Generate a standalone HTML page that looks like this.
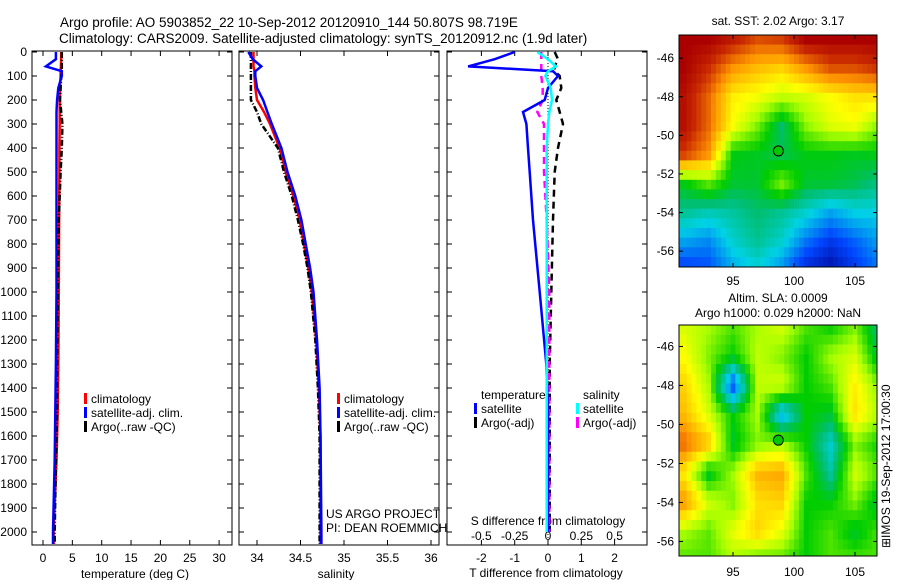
<!DOCTYPE html>
<html><head><meta charset="utf-8"><style>
body{margin:0;background:#fff;width:900px;height:580px;overflow:hidden;font-family:"Liberation Sans",sans-serif}
svg text{font-family:"Liberation Sans",sans-serif;fill:#000}
</style></head><body>
<svg id="fig" width="900" height="580" xmlns="http://www.w3.org/2000/svg">
<text x="60" y="27" font-size="13.5">Argo profile: AO 5903852_22 10-Sep-2012 20120910_144 50.807S 98.719E</text>
<text x="59" y="43" font-size="13.5">Climatology: CARS2009. Satellite-adjusted climatology: synTS_20120912.nc (1.9d later)</text>
<g id="g1"></g><g id="g2"></g><g id="g3"></g><g id="g4"></g><g id="g5"></g>
<text transform="translate(890,548) rotate(-90)" font-size="12">⊞IMOS 19-Sep-2012 17:00:30</text>
</svg>
<script>
// ---- profile data ----
const depthT=[0,30,60,80,100,150,200,250,300,400,500,700,1000,1300,1500,1700,2000,2050];
const climT=[3.1,3.1,3.05,3.0,3.0,2.9,2.85,2.85,2.85,2.8,2.8,2.75,2.7,2.6,2.5,2.3,1.8,1.8];
const satT=[2.2,2.2,0.5,3.2,3.2,2.6,2.4,2.3,2.3,2.3,2.3,2.3,2.3,2.2,2.1,2.0,1.7,1.7];
const argoT=[3.2,3.2,3.2,3.2,3.1,3.0,2.9,3.1,3.3,3.2,3.0,2.7,2.5,2.4,2.4,2.2,2.0,2.0];
const depthS=[0,30,60,80,100,150,200,250,300,400,500,600,700,800,900,1000,1200,1400,1600,2000,2050];
const climS=[33.96,33.96,33.96,33.97,33.97,33.98,34.0,34.08,34.15,34.26,34.33,34.42,34.49,34.54,34.59,34.63,34.68,34.71,34.73,34.73,34.73];
const satS=[33.9,33.95,34.05,33.98,33.98,34.0,34.07,34.12,34.17,34.28,34.35,34.44,34.51,34.56,34.61,34.65,34.69,34.72,34.73,34.74,34.74];
const argoS=[33.93,33.93,33.93,33.93,33.93,33.93,33.93,34.0,34.05,34.24,34.31,34.4,34.47,34.53,34.58,34.62,34.67,34.7,34.72,34.72,34.72];
const depthD=[0,30,60,80,100,150,200,250,300,400,500,700,1000,1300,1500,2000];
const satTd=[-1.0,-1.6,-2.4,0.15,0.3,0.0,-0.1,-0.75,-0.65,-0.6,-0.55,-0.45,-0.25,-0.05,0,0];
const argoTd=[0.2,0.3,0.2,0.2,0.35,0.4,0.25,0.35,0.45,0.3,0.2,0.15,0.1,0.05,0.05,0.05];
const satSd=[-0.08,0.0,0.06,0.0,-0.02,0.02,0.03,0.01,0.0,-0.01,-0.01,-0.01,-0.01,-0.01,-0.01,-0.01];
const argoSd=[-0.05,-0.05,-0.05,-0.05,-0.05,-0.04,-0.04,-0.08,-0.03,-0.03,-0.03,-0.01,0.01,0.01,0.01,0.01];
const tempTicks=[0,5,10,15,20,25,30];
const salTicks=[34,34.5,35,35.5,36];
const depthTicks=[0,100,200,300,400,500,600,700,800,900,1000,1100,1200,1300,1400,1500,1600,1700,1800,1900,2000];
const tdTicks=[-2,-1,0,1,2];
const sdTicks=[-0.5,-0.25,0,0.25,0.5];
// ---- map data (coarse grids, rows lat -45..-57 step 1.5, cols lon 91..107 step 2) ----
const mapLats=[-45,-46.5,-48,-49.5,-51,-52.5,-54,-55.5,-57];
const mapLons=[91,93,95,97,99,101,103,105,107];
const sstGrid=[
[1,1,0.95,0.88,0.9,1,1,1,1],
[1,0.92,0.8,0.75,0.72,0.8,0.88,0.88,0.92],
[0.97,0.85,0.68,0.65,0.6,0.62,0.66,0.7,0.7],
[0.97,0.85,0.66,0.55,0.4,0.56,0.63,0.65,0.55],
[0.9,0.8,0.46,0.45,0.42,0.46,0.46,0.45,0.46],
[0.46,0.53,0.44,0.44,0.55,0.44,0.44,0.42,0.38],
[0.37,0.34,0.36,0.4,0.37,0.32,0.25,0.3,0.3],
[0.25,0.22,0.32,0.37,0.32,0.2,0.12,0.18,0.25],
[0.12,0.15,0.25,0.3,0.22,0.08,0.03,0.12,0.2]];
const slaGrid=[
[0.62,0.58,0.52,0.58,0.62,0.52,0.47,0.55,0.38],
[0.66,0.55,0.47,0.6,0.55,0.47,0.58,0.62,0.42],
[0.72,0.58,0.15,0.6,0.62,0.47,0.52,0.68,0.55],
[0.75,0.62,0.47,0.58,0.25,0.47,0.44,0.7,0.58],
[0.85,0.74,0.44,0.55,0.58,0.47,0.32,0.55,0.47],
[0.68,0.44,0.58,0.76,0.78,0.52,0.36,0.62,0.52],
[0.8,0.62,0.55,0.7,0.72,0.47,0.47,0.55,0.42],
[0.58,0.53,0.64,0.72,0.64,0.47,0.52,0.44,0.52],
[0.52,0.52,0.58,0.52,0.52,0.47,0.52,0.52,0.52]];

const NS="http://www.w3.org/2000/svg";
function mk(p,tag,a){const e=document.createElementNS(NS,tag);for(const k in a)e.setAttribute(k,a[k]);p.appendChild(e);return e;}
function txt(p,x,y,s,anchor,fs){const t=mk(p,'text',{x:x,y:y,'font-size':fs||12,'text-anchor':anchor||'start'});t.textContent=s;return t;}
const Y0=52,DY=0.24;
function yD(d){return Y0+d*DY;}
function line(p,xs,ds,fx,col,w,dash,name){
  const pts=xs.map((v,i)=>fx(v).toFixed(1)+','+yD(ds[i]).toFixed(1)).join(' ');
  const pl=mk(p,'polyline',{points:pts,fill:'none',stroke:col,'stroke-width':w});
  if(dash)pl.setAttribute('stroke-dasharray',dash);
  
  
}
function frame(p,x0,x1,name){
  const r=mk(p,'rect',{x:x0,y:51,width:x1-x0,height:494,fill:'none',stroke:'#000','stroke-width':1});
  
  
}
function legendBar(p,x,y,col){mk(p,'rect',{x:x,y:y-10,width:3,height:11,fill:col});}

// panel 1
const g1=document.getElementById('g1');

const fT=v=>43+v*5.87;
frame(g1,32,232,'temperature-axes');
depthTicks.forEach(d=>{mk(g1,'line',{x1:32,x2:37,y1:yD(d),y2:yD(d),stroke:'#000'});mk(g1,'line',{x1:227,x2:232,y1:yD(d),y2:yD(d),stroke:'#000'});
 const t=txt(g1,27,yD(d)+4,String(d),'end');});
tempTicks.forEach(v=>{mk(g1,'line',{x1:fT(v),x2:fT(v),y1:545,y2:540,stroke:'#000'});mk(g1,'line',{x1:fT(v),x2:fT(v),y1:51,y2:56,stroke:'#000'});
 const t=txt(g1,fT(v),562,String(v),'middle');});
const xl1=txt(g1,135,578,'temperature (deg C)','middle');
line(g1,climT,depthT,fT,'#f00',2.5,null,'climatology-temp-line');
line(g1,argoT,depthT,fT,'#000',2.5,'6,2,1,2','argo-temp-line');
line(g1,satT,depthT,fT,'#00f',2.5,null,'satellite-temp-line');
[['climatology','#f00'],['satellite-adj. clim.','#00f'],['Argo(..raw -QC)','#000']].forEach((e,i)=>{legendBar(g1,84,403+i*14,e[1]);const t=txt(g1,91,403+i*14,e[0]);});

// panel 2
const g2=document.getElementById('g2');

const fS=v=>257+(v-34)*87;
frame(g2,239,439,'salinity-axes');
depthTicks.forEach(d=>{mk(g2,'line',{x1:239,x2:244,y1:yD(d),y2:yD(d),stroke:'#000'});mk(g2,'line',{x1:434,x2:439,y1:yD(d),y2:yD(d),stroke:'#000'});});
salTicks.forEach(v=>{mk(g2,'line',{x1:fS(v),x2:fS(v),y1:545,y2:540,stroke:'#000'});mk(g2,'line',{x1:fS(v),x2:fS(v),y1:51,y2:56,stroke:'#000'});
 const t=txt(g2,fS(v),562,String(v),'middle');});
const xl2=txt(g2,336,578,'salinity','middle');
line(g2,climS,depthS,fS,'#f00',2.5,null,'climatology-salinity-line');
line(g2,argoS,depthS,fS,'#000',2.5,'6,2,1,2','argo-salinity-line');
line(g2,satS,depthS,fS,'#00f',2.5,null,'satellite-salinity-line');
[['climatology','#f00'],['satellite-adj. clim.','#00f'],['Argo(..raw -QC)','#000']].forEach((e,i)=>{legendBar(g2,337,403+i*14,e[1]);const t=txt(g2,344,403+i*14,e[0]);});
const c1=txt(g2,326,518,'US ARGO PROJECT');
const c2=txt(g2,326,532,'PI: DEAN ROEMMICH');

// panel 3
const g3=document.getElementById('g3');

const fTd=v=>548+v*33.3, fSd=v=>548+v*133.3;
frame(g3,447,647,'difference-axes');
depthTicks.forEach(d=>{mk(g3,'line',{x1:447,x2:452,y1:yD(d),y2:yD(d),stroke:'#000'});mk(g3,'line',{x1:642,x2:647,y1:yD(d),y2:yD(d),stroke:'#000'});});
tdTicks.forEach(v=>{mk(g3,'line',{x1:fTd(v),x2:fTd(v),y1:545,y2:540,stroke:'#000'});mk(g3,'line',{x1:fTd(v),x2:fTd(v),y1:51,y2:56,stroke:'#000'});
 const t=txt(g3,fTd(v),562,String(v),'middle');});
sdTicks.forEach(v=>{const t=txt(g3,fSd(v),540,String(v),'middle');});
const sl=txt(g3,548,525,'S difference from climatology','middle');
const tl=txt(g3,546,577,'T difference from climatology','middle');
mk(g3,'line',{x1:548,x2:548,y1:51,y2:545,stroke:'#000','stroke-dasharray':'1,2'});
line(g3,argoTd,depthD,fTd,'#000',2.5,'7,5','argo-tdiff-line');
line(g3,argoSd,depthD,fSd,'#f0f',2.5,'7,5','argo-sdiff-line');
line(g3,satTd,depthD,fTd,'#00f',2.5,null,'satellite-tdiff-line');
line(g3,satSd,depthD,fSd,'#0ff',2.5,null,'satellite-sdiff-line');
[[481,399,'temperature',null],[481,413,'satellite','#00f'],[481,427,'Argo(-adj)','#000'],[583,399,'salinity',null],[583,413,'satellite','#0ff'],[583,427,'Argo(-adj)','#f0f']].forEach(e=>{if(e[3])legendBar(g3,e[0]-7,e[1],e[3]);const t=txt(g3,e[0],e[1],e[2]);});

// maps
const stops=[[0,[0,0,140]],[0.15,[0,70,255]],[0.3,[0,210,230]],[0.4,[0,190,110]],[0.47,[0,205,0]],[0.58,[170,255,0]],[0.66,[255,255,0]],[0.8,[255,150,0]],[0.92,[200,40,0]],[1,[170,0,0]]];
function cmap(v){v=Math.max(0,Math.min(1,v));for(let i=1;i<stops.length;i++){if(v<=stops[i][0]){const a=stops[i-1],b=stops[i],t=(v-a[0])/(b[0]-a[0]);return 'rgb('+a[1].map((c,k)=>Math.round(c+(b[1][k]-c)*t)).join(',')+')';}}return 'rgb(170,0,0)';}
function sample(grid,lat,lon){
  let r=(mapLats[0]-lat)/1.5, c=(lon-mapLons[0])/2;
  r=Math.max(0,Math.min(mapLats.length-1.001,r));c=Math.max(0,Math.min(mapLons.length-1.001,c));
  const r0=Math.floor(r),c0=Math.floor(c),fr=r-r0,fc=c-c0;
  return grid[r0][c0]*(1-fr)*(1-fc)+grid[r0+1][c0]*fr*(1-fc)+grid[r0][c0+1]*(1-fr)*fc+grid[r0+1][c0+1]*fr*fc;
}
function drawMap(g,name,grid,x0,x1,y0,y1,latTop,pxPerLat,latTicks){
  
  const fx=lon=>733+(lon-95)*12.2, fy=lat=>y0+(latTop-lat)*pxPerLat;
  const step=0.5;
  for(let lat=latTop;fy(lat)<y1;lat-=step){
    for(let lon=90.4;fx(lon)<x1;lon+=step*0.8){
      const px=Math.max(x0,fx(lon)),py=Math.max(y0,fy(lat));
      const w=Math.min(x1,fx(lon+step*0.8))-px,h=Math.min(y1,fy(lat-step))-py;
      if(w>0&&h>0)mk(g,'rect',{x:px.toFixed(1),y:py.toFixed(1),width:(w+0.4).toFixed(1),height:(h+0.4).toFixed(1),fill:cmap(sample(grid,lat-step/2,lon+step*0.4))});
    }
  }
  const fr=mk(g,'rect',{x:x0,y:y0,width:x1-x0,height:y1-y0,fill:'none',stroke:'#000'});
  
  latTicks.forEach(l=>{mk(g,'line',{x1:x0,x2:x0+4,y1:fy(l),y2:fy(l),stroke:'#000'});mk(g,'line',{x1:x1-4,x2:x1,y1:fy(l),y2:fy(l),stroke:'#000'});
    const t=txt(g,x0-5,fy(l)+4,String(l),'end');});
  [95,100,105].forEach(l=>{mk(g,'line',{x1:fx(l),x2:fx(l),y1:y1,y2:y1-4,stroke:'#000'});mk(g,'line',{x1:fx(l),x2:fx(l),y1:y0,y2:y0+4,stroke:'#000'});});
  const c=mk(g,'circle',{cx:fx(98.719),cy:fy(-50.807),r:5,fill:'#00c800',stroke:'#000','stroke-width':1});
  
}
const g4=document.getElementById('g4');
drawMap(g4,'sst-map',sstGrid,679,877,35,267,-44.8,19.3,[-46,-48,-50,-52,-54,-56]);
[95,100,105].forEach(l=>{const t=txt(g4,733+(l-95)*12.2,285,String(l),'middle');});
const st=txt(g4,778,25,'sat. SST: 2.02 Argo: 3.17','middle');
const a1=txt(g4,778,302,'Altim. SLA: 0.0009','middle');
const a2=txt(g4,778,317,'Argo h1000: 0.029 h2000: NaN','middle');
const g5=document.getElementById('g5');
drawMap(g5,'sla-map',slaGrid,679,877,325,556,-44.9,19.5,[-46,-48,-50,-52,-54,-56]);
[95,100,105].forEach(l=>{const t=txt(g5,733+(l-95)*12.2,576,String(l),'middle');});
</script>
</body></html>
